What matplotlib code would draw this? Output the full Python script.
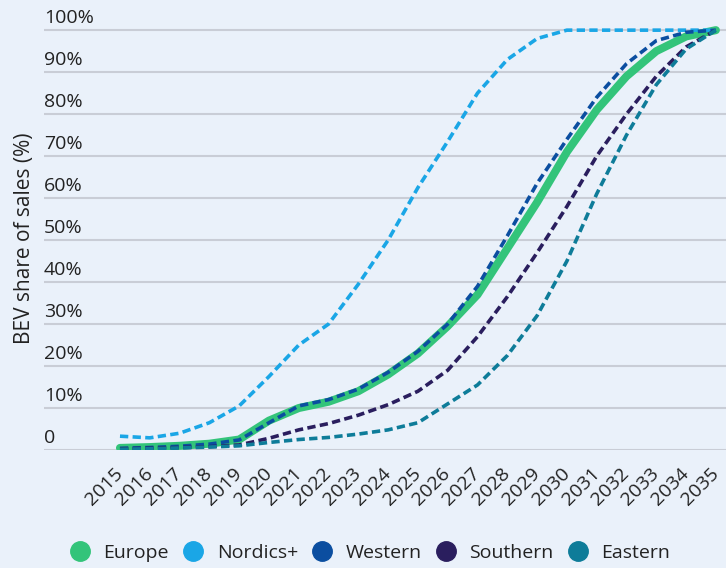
import matplotlib.pyplot as plt
from matplotlib.lines import Line2D

plt.rcParams['font.family'] = ['Open Sans', 'DejaVu Sans']

years = list(range(2015, 2036))

europe = [0.5, 0.7, 1.0, 1.5, 2.5, 7.0, 10.0, 11.5, 14.0, 18.0, 23.0, 29.5,
          37.0, 48.0, 59.0, 71.0, 81.0, 89.0, 95.0, 98.5, 100.0]
nordics = [3.3, 2.9, 4.0, 6.5, 10.5, 17.5, 25.0, 30.0, 39.5, 50.0, 62.5, 73.5,
           85.0, 93.0, 98.0, 100.0, 100.0, 100.0, 100.0, 100.0, 100.0]
western = [0.4, 0.6, 0.9, 1.4, 2.4, 6.5, 10.5, 12.0, 14.5, 18.5, 23.5, 30.0,
           39.0, 51.0, 63.5, 74.0, 84.0, 92.0, 97.5, 99.5, 100.0]
southern = [0.3, 0.4, 0.6, 0.8, 1.2, 2.8, 4.8, 6.3, 8.3, 10.8, 14.0, 19.0,
            27.0, 36.5, 47.0, 58.0, 70.0, 80.0, 89.0, 96.0, 100.0]
eastern = [0.2, 0.3, 0.5, 0.7, 1.0, 1.8, 2.5, 3.0, 3.8, 4.8, 6.5, 11.0,
           15.5, 22.5, 32.0, 45.0, 61.0, 75.0, 87.0, 95.5, 100.0]

names = ['Europe', 'Nordics+', 'Western', 'Southern', 'Eastern']
colors = ['#33C47A', '#1AA6E6', '#0B4EA0', '#2A1E5E', '#0E7C99']
yticks = [0, 10, 20, 30, 40, 50, 60, 70, 80, 90, 100]

bg = '#EAF1FA'
fig = plt.figure(figsize=(7.26, 5.68), dpi=100, facecolor=bg)
ax = fig.add_axes([0.0606, 0.2077, 0.9394, 0.754])
ax.set_facecolor(bg)

# solid Europe line first, dashed regions on top
ax.plot(years, europe, color=colors[0], lw=5.8, solid_capstyle='round', zorder=3)
for vals, c in zip([nordics, western, southern, eastern], colors[1:]):
    ax.plot(years, vals, color=c, lw=2.6, linestyle=(0, (2.3, 1.2)), zorder=4)

ax.set_xlim(2012.45, 2035.34)
ax.set_ylim(0, 102)

for s in ax.spines.values():
    s.set_visible(False)

ax.set_yticks(yticks)
ax.set_yticklabels([])
ax.tick_params(axis='y', length=0)
ax.grid(axis='y', color='#C9CDD6', lw=1.5)
ax.set_axisbelow(True)
for v in yticks:
    lab = '0' if v == 0 else '%d%%' % v
    ax.annotate(lab, xy=(0, v), xycoords=('axes fraction', 'data'),
                xytext=(0, 2), textcoords='offset points',
                ha='left', va='bottom', fontsize=14, color='#222222')

ax.set_xticks(years)
ax.set_xticklabels([str(y) for y in years], rotation=45, ha='right', va='center',
                   rotation_mode='anchor', fontsize=14, color='#222222')
ax.tick_params(axis='x', length=0, pad=15)

fig.text(0.034, 1 - 238 / 568, 'BEV share of sales (%)', rotation=90,
         ha='center', va='center', fontsize=15, color='#222222')

handles = [Line2D([], [], marker='o', linestyle='none', markersize=14,
                  markerfacecolor=c, markeredgecolor=c) for c in colors]
fig.legend(handles, names, loc='center', bbox_to_anchor=(0.51, 1 - 553 / 568),
           ncol=5, frameon=False, fontsize=14, handlelength=1.0,
           handletextpad=0.7, columnspacing=0.75, labelcolor='#222222')

fig.savefig('out.png', dpi=100, facecolor=bg)
